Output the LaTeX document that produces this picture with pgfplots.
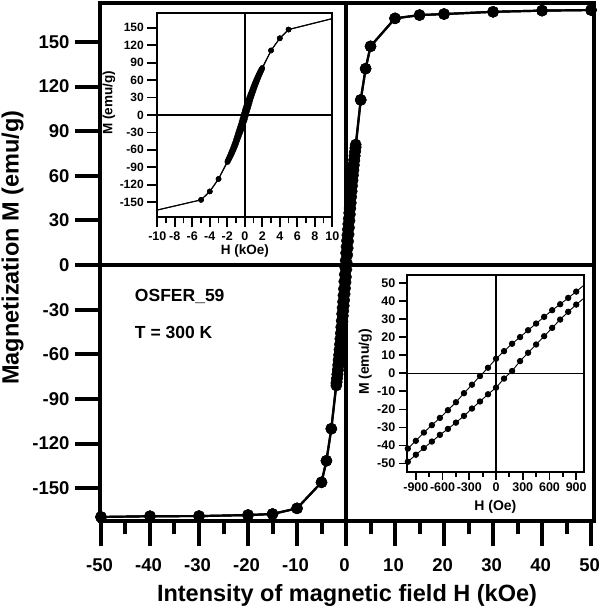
\documentclass[border=0pt]{standalone}
\usepackage{pgfplots}
\usepackage{pgfplotstable}
\pgfplotsset{compat=1.18}
\usepackage{fontspec}
\setmainfont{Liberation Sans}

\pgfplotstableread{
H M
50 171.4
40 171.0
30 170.2
20 168.7
15 168.0
10 165.8
5 147.0
4 132.0
3 111.0
1.98 81.0
1.89 78.6
1.80 76.0
1.71 73.4
1.62 70.7
1.53 67.9
1.44 65.0
1.35 62.0
1.26 58.9
1.17 55.7
1.08 52.4
0.99 49.0
0.90 45.3
0.81 41.8
0.72 38.3
0.63 35.0
0.54 31.3
0.45 27.6
0.36 23.9
0.27 20.1
0.18 16.4
0.09 12.3
0.00 8.1
-0.09 3.1
-0.18 -1.5
-0.27 -6.3
-0.36 -11.0
-0.45 -16.0
-0.54 -20.4
-0.63 -24.7
-0.72 -28.7
-0.81 -32.8
-0.90 -37.4
-0.99 -41.7
-1.08 -45.8
-1.17 -49.6
-1.26 -53.3
-1.35 -56.9
-1.44 -60.4
-1.53 -63.8
-1.62 -67.1
-1.71 -70.3
-1.80 -73.4
-1.89 -76.4
-1.98 -79.3
-3 -110.0
-4 -131.5
-5 -146.0
-10 -163.5
-15 -167.3
-20 -168.0
-30 -168.7
-40 -168.8
-50 -169.3
}\desc

\pgfplotstableread{
H M
-50 -169.3
-40 -168.8
-30 -168.7
-20 -168.0
-15 -167.3
-10 -163.5
-5 -146.0
-4 -131.5
-3 -110.0
-1.98 -81.0
-1.89 -78.6
-1.80 -76.0
-1.71 -73.4
-1.62 -70.7
-1.53 -67.9
-1.44 -65.0
-1.35 -62.0
-1.26 -58.9
-1.17 -55.7
-1.08 -52.4
-0.99 -49.0
-0.90 -45.1
-0.81 -41.4
-0.72 -37.8
-0.63 -34.1
-0.54 -30.8
-0.45 -27.3
-0.36 -23.6
-0.27 -19.5
-0.18 -15.6
-0.09 -11.6
0.00 -7.9
0.09 -2.9
0.18 1.3
0.27 6.8
0.36 11.4
0.45 16.0
0.54 20.6
0.63 25.2
0.72 29.8
0.81 34.1
0.90 38.1
0.99 41.8
1.08 45.8
1.17 49.6
1.26 53.3
1.35 56.9
1.44 60.4
1.53 63.8
1.62 67.1
1.71 70.3
1.80 73.4
1.89 76.4
1.98 79.3
3 111.0
4 132.0
5 147.0
10 165.8
15 168.0
20 168.7
30 170.2
40 171.0
50 171.4
}\asc

\begin{document}
\begin{tikzpicture}
\path[use as bounding box] (-100pt,-89pt) rectangle (500pt,521pt);
% main axis
\begin{axis}[
  at={(0pt,0pt)}, anchor=south west,
  scale only axis, width=494pt, height=517.8pt,
  xmin=-50.2, xmax=50.6, ymin=-172, ymax=176,
  clip mode=individual,
  xtick={-50,-40,...,50}, minor xtick={-45,-35,...,45},
  ytick={-150,-120,...,150},
  tick align=outside, tick pos=left,
  major tick length=25pt, minor tick length=13pt,
  tick style={black, line width=4pt},
  axis line style={line width=4pt},
  ticklabel style={font=\bfseries\fontsize{18.5}{18.5}\selectfont},
  /pgf/number format/assume math mode=true,
  xticklabel style={yshift=-9pt, xshift=-1.5pt},
  yticklabel style={xshift=-2pt},
]
\draw[line width=4pt] (axis cs:0,-172) -- (axis cs:0,176);
\draw[line width=4pt] (axis cs:-50.2,0) -- (axis cs:50.6,0);
\addplot[black, line width=2.2pt, mark=*, mark size=5.6pt, mark options={solid, fill=black, line width=0.4pt}] table[x=H,y=M] {\desc};
\addplot[black, line width=2.2pt, mark=*, mark size=5.6pt, mark options={solid, fill=black, line width=0.4pt}] table[x=H,y=M] {\asc};
\node[anchor=base west, font=\bfseries\fontsize{17.5}{17.5}\selectfont, inner sep=0pt] at (axis cs:-43.1,-24.7) {OSFER\_59};
\node[anchor=base west, font=\bfseries\fontsize{17.5}{17.5}\selectfont, inner sep=0pt] at (axis cs:-43.1,-49.3) {T = 300 K};
\node[anchor=base, font=\bfseries\fontsize{23.5}{23.5}\selectfont, inner sep=0pt] at (axis description cs:0.5,-0.156) {Intensity of magnetic field H (kOe)};
\node[rotate=90, anchor=south, font=\bfseries\fontsize{23.5}{23.5}\selectfont, inner sep=0pt] at (axis description cs:-0.154,0.528) {Magnetization M (emu/g)};
\end{axis}

% inset 1
\begin{axis}[
  at={(57.3pt,303.7pt)}, anchor=south west,
  scale only axis, width=175pt, height=204.6pt,
  xmin=-10, xmax=10, ymin=-176, ymax=176,
  clip mode=individual,
  xtick={-10,-8,...,10}, minor xtick={-9,-7,...,9},
  ytick={-150,-120,...,150},
  tick align=outside, tick pos=left,
  major tick length=10pt, minor tick length=6pt,
  tick style={black, line width=1.8pt},
  axis line style={line width=2pt},
  axis background/.style={fill=white},
  ticklabel style={font=\bfseries\fontsize{12}{12}\selectfont},
  xticklabel style={font=\bfseries\fontsize{12.5}{12.5}\selectfont, yshift=-1pt},
  /pgf/number format/assume math mode=true,
]
\draw[line width=1.4pt] (axis cs:0,-176) -- (axis cs:0,176);
\draw[line width=1.4pt] (axis cs:-10,0) -- (axis cs:10,0);
\addplot[black, line width=1pt, mark=none] table[x=H,y=M] {\desc};
\addplot[black, line width=1pt, mark=none] table[x=H,y=M] {\asc};
\addplot[black, only marks, mark=*, mark size=2.6pt, restrict x to domain=-6:6] table[x=H,y=M] {\desc};
\addplot[black, only marks, mark=*, mark size=2.6pt, restrict x to domain=-6:6] table[x=H,y=M] {\asc};
\node[anchor=base, font=\bfseries\fontsize{13.5}{13.5}\selectfont, inner sep=0pt] at (axis description cs:0.5,-0.184) {H (kOe)};
\node[rotate=90, anchor=south, font=\bfseries\fontsize{13.5}{13.5}\selectfont, inner sep=0pt] at (axis description cs:-0.239,0.559) {M (emu/g)};
\end{axis}

% inset 2
\begin{axis}[
  at={(306.7pt,49.3pt)}, anchor=south west,
  scale only axis, width=177.3pt, height=196.7pt,
  xmin=-1002, xmax=988, ymin=-54.5, ymax=54.5,
  clip mode=individual,
  xtick={-900,-600,...,900}, minor xtick={-750,-450,-150,150,450,750},
  ytick={-50,-40,...,50},
  tick align=outside, tick pos=left,
  major tick length=8pt, minor tick length=5pt,
  tick style={black, line width=1.8pt},
  axis line style={line width=2pt},
  axis background/.style={fill=white},
  ticklabel style={font=\bfseries\fontsize{12.5}{12.5}\selectfont},
  /pgf/number format/assume math mode=true,
]
\draw[line width=1.4pt] (axis cs:0,-54.5) -- (axis cs:0,54.5);
\draw[line width=1.4pt] (axis cs:-1002,0) -- (axis cs:988,0);
\addplot[black, line width=0.9pt, mark=*, mark size=2.7pt, mark options={solid}] table[x expr=\thisrow{H}*1000, y=M] {\desc};
\addplot[black, line width=0.9pt, mark=*, mark size=2.7pt, mark options={solid}] table[x expr=\thisrow{H}*1000, y=M] {\asc};
\node[anchor=base, font=\bfseries\fontsize{14}{14}\selectfont, inner sep=0pt] at (axis description cs:0.5,-0.195) {H (Oe)};
\node[rotate=90, anchor=south, font=\bfseries\fontsize{14}{14}\selectfont, inner sep=0pt] at (axis description cs:-0.196,0.558) {M (emu/g)};
\end{axis}
\end{tikzpicture}
\end{document}
